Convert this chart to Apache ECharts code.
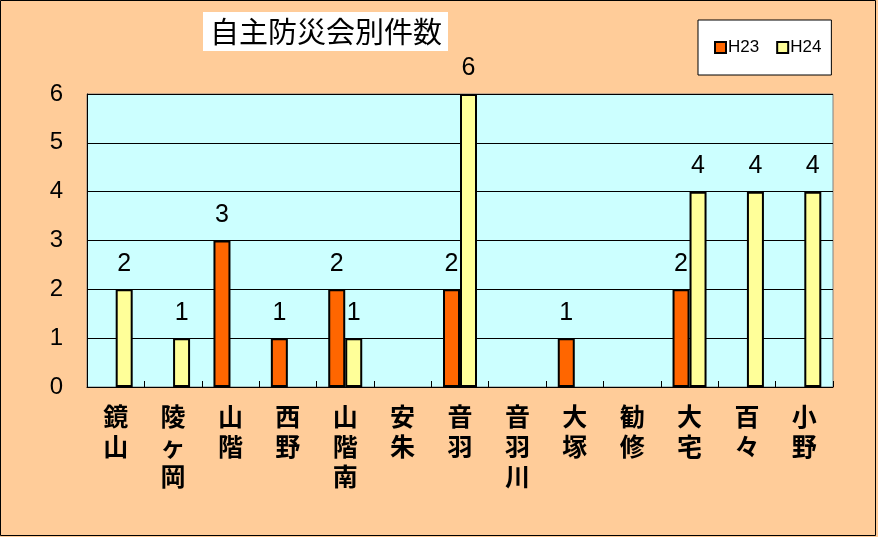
<!DOCTYPE html>
<html>
<head>
<meta charset="utf-8">
<script src="https://cdn.jsdelivr.net/npm/echarts@6/dist/echarts.min.js"></script>
<style>
  html, body { margin: 0; padding: 0; background: #FFCC99; }
  #main { width: 878px; height: 537px; }
</style>
</head>
<body>
<div id="main"></div>
<script>
// 地区名
var areas = ['鏡山', '陵ヶ岡', '山階', '西野', '山階南', '安朱', '音羽', '音羽川', '大塚', '勧修', '大宅', '百々', '小野'];
// 件数 ('-' は該当なし)
var h23 = ['-', '-', 3, 1, 2, '-', 2, '-', 1, '-', 2, '-', '-'];
var h24 = [2, 1, '-', '-', 1, '-', 6, '-', '-', '-', 4, 4, 4];
var yTicks = [0, 1, 2, 3, 4, 5, 6];

var font = '"Noto Sans CJK JP", "Liberation Sans", sans-serif';
var latin = '"Liberation Sans", sans-serif';

var myChart = echarts.init(document.getElementById('main'));

var barLabel = {
    show: true,
    position: 'top',
    distance: 13,
    color: '#000',
    fontSize: 25,
    fontFamily: latin
};

var option = {
    backgroundColor: '#FFCC99',
    animation: false,
    title: {
        text: '自主防災会別件数',
        left: 203,
        top: 12,
        backgroundColor: '#fff',
        padding: [5, 6, 5, 7],
        textStyle: {
            fontFamily: font,
            fontSize: 29,
            fontWeight: 'normal',
            color: '#000'
        }
    },
    legend: {
        data: ['H23', 'H24'],
        left: 698,
        top: 20,
        padding: [19, 10, 19, 16],
        backgroundColor: '#fff',
        borderColor: '#000',
        borderWidth: 1,
        icon: 'rect',
        itemWidth: 11,
        itemHeight: 11,
        itemGap: 17,
        textStyle: {
            fontFamily: latin,
            fontSize: 17,
            color: '#000',
            padding: [0, 0, 0, -3]
        }
    },
    graphic: [{
        type: 'rect',
        shape: { x: 0.5, y: 0.5, width: 875, height: 535 },
        style: { fill: 'none', stroke: '#000', lineWidth: 1 },
        silent: true,
        z: 100
    }],
    grid: {
        left: 87,
        right: 45,
        top: 94,
        bottom: 150,
        show: true,
        backgroundColor: '#CCFFFF',
        borderColor: '#808080',
        borderWidth: 1
    },
    xAxis: {
        type: 'category',
        data: areas,
        axisLine: { lineStyle: { color: '#000', width: 1 } },
        axisTick: { show: true, inside: true, length: 6, lineStyle: { color: '#000' } },
        axisLabel: {
            interval: 0,
            margin: 14,
            color: '#000',
            fontFamily: font,
            fontSize: 25,
            fontWeight: 'bold',
            lineHeight: 30,
            formatter: function (v) { return v.split('').join('\n'); }
        }
    },
    yAxis: {
        type: 'value',
        min: yTicks[0],
        max: yTicks[yTicks.length - 1],
        interval: 1,
        axisLine: { show: true, lineStyle: { color: '#000' } },
        axisTick: { show: false },
        splitLine: { show: true, lineStyle: { color: '#000', width: 1 } },
        axisLabel: {
            margin: 24,
            color: '#000',
            fontFamily: latin,
            fontSize: 24
        }
    },
    series: [
        {
            name: 'H23',
            type: 'bar',
            data: h23,
            barWidth: 17,
            barGap: 0,
            itemStyle: { color: '#FF6600', borderColor: '#000', borderWidth: 2 },
            label: barLabel
        },
        {
            name: 'H24',
            type: 'bar',
            data: h24,
            barWidth: 17,
            barGap: 0,
            itemStyle: { color: '#FFFF99', borderColor: '#000', borderWidth: 2 },
            label: barLabel
        }
    ]
};

myChart.setOption(option);
</script>
</body>
</html>
